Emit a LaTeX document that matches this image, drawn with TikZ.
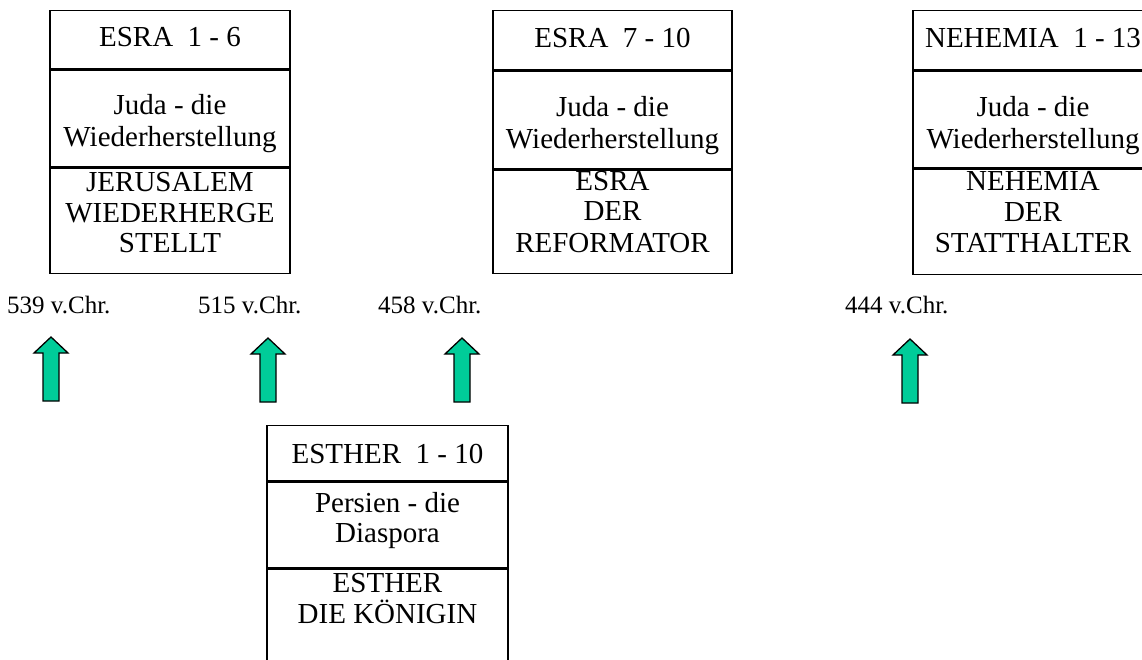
\documentclass[tikz,border=0pt]{standalone}
\usepackage{fontspec}
\setmainfont{Liberation Serif}
\definecolor{arrowgreen}{HTML}{00CC99}
\begin{document}
\begin{tikzpicture}[x=1pt,y=-1pt,
  sect/.style={draw=black,line width=1.3pt,minimum width=240pt,inner sep=0pt,anchor=north},
  boxtext/.style={anchor=base,inner sep=0pt,font=\fontsize{29}{32}\selectfont},
  datetext/.style={anchor=base west,inner sep=0pt,font=\fontsize{25}{28}\selectfont},
  arrowfill/.style={draw=black,line width=1.3pt,fill=arrowgreen,line join=miter},
  uparr/.pic={\draw[arrowfill] (-8,64) -- (-8,16) -- (-17,16) -- (0,0) -- (17,16) -- (8,16) -- (8,64) -- cycle;}
]
\useasboundingbox (0,0) rectangle (1142,660);
\clip (0,0) rectangle (1142,660);

% ---------- Box 1: ESRA 1-6
\node[sect,minimum height=58pt] (b1t) at (170,10) {};
\node[sect,minimum height=97pt] (b1m) at (b1t.south) {};
\node[sect,minimum height=105pt] (b1b) at (b1m.south) {};
\node[boxtext] (b1t1) at (170,47) {ESRA\ \ 1 - 6};
\node[boxtext] (b1m1) at (170,115) {Juda - die};
\node[boxtext] (b1m2) at (170,147) {Wiederherstellung};
\node[boxtext] (b1b1) at (170,192) {JERUSALEM};
\node[boxtext] (b1b2) at (170,223) {WIEDERHERGE};
\node[boxtext] (b1b3) at (170,253) {STELLT};

% ---------- Box 2: ESRA 7-10
\node[sect,minimum width=239pt,minimum height=59pt] (b2t) at (612.5,10) {};
\node[sect,minimum width=239pt,minimum height=98pt] (b2m) at (b2t.south) {};
\node[sect,minimum width=239pt,minimum height=103pt] (b2b) at (b2m.south) {};
\node[boxtext] (b2t1) at (612.5,48) {ESRA\ \ 7 - 10};
\node[boxtext] (b2m1) at (612.5,117) {Juda - die};
\node[boxtext] (b2m2) at (612.5,149) {Wiederherstellung};
\node[boxtext] (b2b1) at (612.5,191) {ESRA};
\node[boxtext] (b2b2) at (612.5,221) {DER};
\node[boxtext] (b2b3) at (612.5,252) {REFORMATOR};

% ---------- Box 3: NEHEMIA 1-13
\node[sect,minimum height=59pt] (b3t) at (1033,10) {};
\node[sect,minimum height=97pt] (b3m) at (b3t.south) {};
\node[sect,minimum height=105pt] (b3b) at (b3m.south) {};
\node[boxtext] (b3t1) at (1033,48) {NEHEMIA\ \ 1 - 13};
\node[boxtext] (b3m1) at (1033,117) {Juda - die};
\node[boxtext] (b3m2) at (1033,149) {Wiederherstellung};
\node[boxtext] (b3b1) at (1033,191) {NEHEMIA};
\node[boxtext] (b3b2) at (1033,222) {DER};
\node[boxtext] (b3b3) at (1033,253) {STATTHALTER};

% ---------- Box 4: ESTHER 1-10
\node[sect,minimum width=241pt,minimum height=55pt] (b4t) at (387.5,425) {};
\node[sect,minimum width=241pt,minimum height=86pt] (b4m) at (b4t.south) {};
\node[sect,minimum width=241pt,minimum height=110pt] (b4b) at (b4m.south) {};
\node[boxtext] (b4t1) at (387.5,463) {ESTHER\ \ 1 - 10};
\node[boxtext] (b4m1) at (387.5,512) {Persien - die};
\node[boxtext] (b4m2) at (387.5,542) {Diaspora};
\node[boxtext] (b4b1) at (387.5,592) {ESTHER};
\node[boxtext] (b4b2) at (387.5,623) {DIE K\"ONIGIN};

% ---------- Dates
\node[datetext] (d1) at (7,313) {539 v.Chr.};
\node[datetext] (d2) at (198,313) {515 v.Chr.};
\node[datetext] (d3) at (378,313) {458 v.Chr.};
\node[datetext] (d4) at (845,313) {444 v.Chr.};

% ---------- Arrows
\pic at (51,337) {uparr};
\pic at (268,338) {uparr};
\pic at (462,338) {uparr};
\pic at (910,339) {uparr};
\end{tikzpicture}
\end{document}
